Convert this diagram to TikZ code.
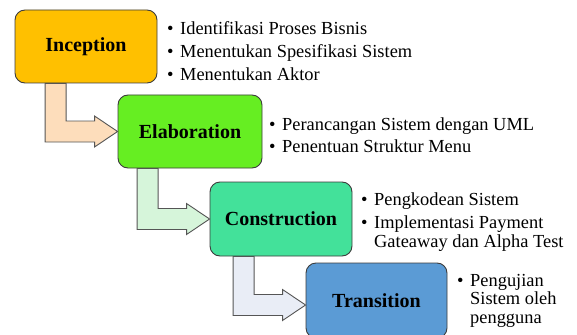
\documentclass[tikz,border=0pt]{standalone}
\usepackage{fontspec}
\setmainfont{Liberation Serif}
\usetikzlibrary{calc}

\definecolor{boxline}{HTML}{3C3C3C}
\definecolor{arrowline}{HTML}{555555}
\definecolor{incfill}{HTML}{FFC000}
\definecolor{elafill}{HTML}{66EE22}
\definecolor{confill}{HTML}{43E19A}
\definecolor{trafill}{HTML}{5B9BD5}
\definecolor{peach}{HTML}{FDDDBB}
\definecolor{mint}{HTML}{D6F5DA}
\definecolor{mist}{HTML}{E9EDF6}

% bullet item: name, x, baseline y, text
\newcommand\bitem[4]{\node[point] (#1) at (#2,#3) {\makebox[13pt][l]{•}#4};}
% continuation line of a wrapped item
\newcommand\contline[4]{\node[point] (#1) at (#2,#3) {#4};}
% bent block arrow from the bottom of a stage to a tip point
\newcommand\stagearrow[3]{%
  \path let \p1=(#1.south), \p2=(#2) in
    [bendarrow, fill=#3]
    (\x2-72.5pt,\y1) -- (\x2-51.5pt,\y1) -- (\x2-51.5pt,\y2+10.5pt)
    -- (\x2-23pt,\y2+10.5pt) -- (\x2-23pt,\y2+15.5pt) -- (\x2,\y2)
    -- (\x2-23pt,\y2-15.5pt) -- (\x2-23pt,\y2-10.5pt)
    -- (\x2-72.5pt,\y2-10.5pt) -- cycle;}

\begin{document}
\begin{tikzpicture}[x=1pt,y=-1pt,
  stage/.style={draw=boxline, line width=0.9pt, rounded corners=10pt,
    inner sep=0pt, font=\fontsize{20}{24}\selectfont\bfseries},
  point/.style={anchor=base west, inner sep=0pt,
    font=\fontsize{18.4}{22}\selectfont},
  bendarrow/.style={draw=arrowline, line width=0.9pt, line join=miter}]
\useasboundingbox (0,0) rectangle (577,334);

% phases
\node[stage, fill=incfill, minimum width=142pt, minimum height=73pt] (inc) at (86,46.5) {Inception};
\node[stage, fill=elafill, minimum width=144pt, minimum height=73pt] (ela) at (190,131.5) {Elaboration};
\node[stage, fill=confill, minimum width=142pt, minimum height=74pt] (con) at (281,219) {Construction};
\node[stage, fill=trafill, minimum width=141pt, minimum height=75pt] (tra) at (376.5,300.5) {Transition};

% transitions between phases
\stagearrow{inc}{ela.west}{peach}
\stagearrow{ela}{con.west}{mint}
\stagearrow{con}{[yshift=-4.5pt]tra.west}{mist}

% activities of each phase
\bitem{i1}{167}{35}{Identifikasi Proses Bisnis}
\bitem{i2}{167}{58}{Menentukan Spesifikasi Sistem}
\bitem{i3}{167}{81}{Menentukan Aktor}

\bitem{e1}{269}{130}{Perancangan Sistem dengan UML}
\bitem{e2}{269}{152}{Penentuan Struktur Menu}

\bitem{c1}{361}{205.5}{Pengkodean Sistem}
\bitem{c2}{361}{228}{Implementasi Payment}
\contline{c3}{374}{247}{Gateaway dan Alpha Test}

\bitem{t1}{457}{286}{Pengujian}
\contline{t2}{470}{304}{Sistem oleh}
\contline{t3}{470}{323}{pengguna}
\end{tikzpicture}
\end{document}
